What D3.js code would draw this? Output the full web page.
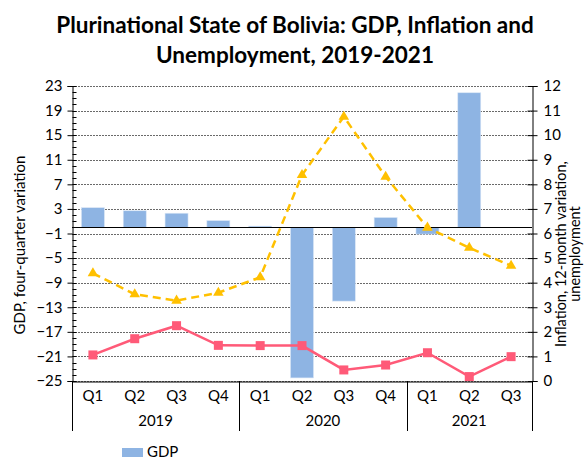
<!DOCTYPE html>
<html>
<head>
<meta charset="utf-8">
<title>Bolivia GDP, inflation and unemployment</title>
<script src="https://cdnjs.cloudflare.com/ajax/libs/d3/7.8.5/d3.min.js"></script>
<style>
  body { margin: 0; background: #fff; }
  text { font-family: Lato, "Open Sans", sans-serif; fill: #000; }
  .grid line { stroke: #6a6a6a; stroke-dasharray: 2,1; }
</style>
</head>
<body>
<svg id="chart" width="584" height="458"></svg>
<script>
// categories
var quarters = ["Q1", "Q2", "Q3", "Q4", "Q1", "Q2", "Q3", "Q4", "Q1", "Q2", "Q3"];
var years = ["2019", "2019", "2019", "2019", "2020", "2020", "2020", "2020", "2021", "2021", "2021"];
var yearGroups = ["2019", "2020", "2021"];

// series
var gdp = [3.2, 2.7, 2.3, 1.1, 0.2, -24.5, -12.0, 1.6, -1.1, 21.9, 0.0];
var unemployment = [4.38, 3.53, 3.27, 3.59, 4.22, 8.38, 10.75, 8.31, 6.24, 5.42, 4.69];
var inflation = [1.06, 1.72, 2.25, 1.45, 1.44, 1.44, 0.45, 0.65, 1.15, 0.18, 0.99];

// tick labels
var leftTicks = [23, 19, 15, 11, 7, 3, -1, -5, -9, -13, -17, -21, -25];
var rightTicks = [0, 1, 2, 3, 4, 5, 6, 7, 8, 9, 10, 11, 12];

var svg = d3.select("#chart");
var plotLeft = 72, plotRight = 532, plotTop = 86, plotBottom = 381;

var keys = quarters.map(function(q, i) { return i; });
var x = d3.scaleBand().domain(keys).range([plotLeft, plotRight]).paddingInner(0).paddingOuter(0);
var yL = d3.scaleLinear().domain([-25, 23]).range([plotBottom, plotTop]);
var yR = d3.scaleLinear().domain([0, 12]).range([plotBottom, plotTop]);

// title
var title = svg.append("text")
    .attr("x", 295).attr("y", 33)
    .attr("text-anchor", "middle")
    .style("font-size", "22.5px").style("font-weight", "bold");
title.append("tspan").attr("x", 295).attr("dy", 0).text("Plurinational State of Bolivia: GDP, Inflation and");
title.append("tspan").attr("x", 295).attr("dy", 30).text("Unemployment, 2019-2021");

// gridlines
svg.append("g").attr("class", "grid")
  .selectAll("line").data(leftTicks).enter().append("line")
    .attr("x1", plotLeft).attr("x2", plotRight)
    .attr("y1", function(d) { return Math.round(yL(d)) + 0.5; })
    .attr("y2", function(d) { return Math.round(yL(d)) + 0.5; });

// bars
svg.append("g").selectAll("rect").data(gdp).enter().append("rect")
    .attr("x", function(d, i) { return x(i) + x.bandwidth() * 0.225; })
    .attr("width", x.bandwidth() * 0.55)
    .attr("y", function(d) { return yL(Math.max(0, d)); })
    .attr("height", function(d) { return Math.abs(yL(d) - yL(0)); })
    .attr("fill", "#8eb4e3")
    .attr("stroke", "#dbe7f6").attr("stroke-width", 0.6);

// zero line
svg.append("line")
    .attr("x1", plotLeft).attr("x2", plotRight)
    .attr("y1", Math.round(yL(0)) + 0.5).attr("y2", Math.round(yL(0)) + 0.5)
    .attr("stroke", "#000").attr("stroke-width", 1);

// left axis
var leftAxis = svg.append("g").attr("transform", "translate(" + (plotLeft + 0.5) + ",0)")
    .call(d3.axisLeft(yL).tickValues(leftTicks).tickSize(5).tickPadding(5));
leftAxis.select(".domain").attr("stroke", "#000");
leftAxis.selectAll("text").style("font-size", "15px").style("font-family", "Lato, sans-serif");
// minor ticks inside
svg.append("g").attr("transform", "translate(" + (plotLeft + 0.5) + ",0)")
  .selectAll("line").data(d3.range(-25, 24, 1)).enter().append("line")
    .attr("x1", 0).attr("x2", 4)
    .attr("y1", function(d) { return Math.round(yL(d)) + 0.5; })
    .attr("y2", function(d) { return Math.round(yL(d)) + 0.5; })
    .attr("stroke", "#000");

// right axis
var rightAxis = svg.append("g").attr("transform", "translate(" + (plotRight + 0.5) + ",0)")
    .call(d3.axisRight(yR).tickValues(rightTicks).tickSize(5).tickPadding(6));
rightAxis.select(".domain").attr("stroke", "#000");
rightAxis.selectAll(".tick line").attr("x1", -5);
rightAxis.selectAll("text").style("font-size", "15px").style("font-family", "Lato, sans-serif");

// category axis
var xAxis = svg.append("g").attr("transform", "translate(0," + (plotBottom + 0.5) + ")")
    .call(d3.axisBottom(x).tickSize(0).tickPadding(9).tickFormat(function(i) { return quarters[i]; }));
xAxis.select(".domain").attr("stroke", "#000");
xAxis.selectAll("text").style("font-size", "15px").style("font-family", "Lato, sans-serif");

// year separators and labels
var bounds = [0, 4, 8, 11];
svg.append("g").selectAll("line").data(bounds).enter().append("line")
    .attr("x1", function(b) { return Math.round(b < 11 ? x(b) : plotRight) + 0.5; })
    .attr("x2", function(b) { return Math.round(b < 11 ? x(b) : plotRight) + 0.5; })
    .attr("y1", plotBottom).attr("y2", plotBottom + 50)
    .attr("stroke", "#000");
svg.append("g").selectAll("text").data(yearGroups).enter().append("text")
    .attr("x", function(yr) {
      var idx = years.map(function(v, i) { return v === yr ? i : -1; }).filter(function(i) { return i >= 0; });
      return (x(idx[0]) + x(idx[idx.length - 1]) + x.bandwidth()) / 2;
    })
    .attr("y", plotBottom + 45)
    .attr("text-anchor", "middle")
    .style("font-size", "15px")
    .text(function(d) { return d; });

// unemployment line (dashed, triangles)
var lineR = d3.line().x(function(d, i) { return x(i) + x.bandwidth() / 2; }).y(function(d) { return yR(d); });
svg.append("path").datum(unemployment)
    .attr("d", lineR).attr("fill", "none")
    .attr("stroke", "#ffc000").attr("stroke-width", 2.5).attr("stroke-dasharray", "8,5");
svg.append("g").selectAll("path").data(unemployment).enter().append("path")
    .attr("d", d3.symbol().type(d3.symbolTriangle).size(48))
    .attr("transform", function(d, i) { return "translate(" + (x(i) + x.bandwidth() / 2) + "," + yR(d) + ")"; })
    .attr("fill", "#ffc000");

// inflation line (solid, squares)
svg.append("path").datum(inflation)
    .attr("d", lineR).attr("fill", "none")
    .attr("stroke", "#ff5a78").attr("stroke-width", 2.5);
svg.append("g").selectAll("rect").data(inflation).enter().append("rect")
    .attr("x", function(d, i) { return x(i) + x.bandwidth() / 2 - 4.5; })
    .attr("y", function(d) { return yR(d) - 4.5; })
    .attr("width", 9).attr("height", 9)
    .attr("fill", "#ff5a78");

// axis titles
svg.append("text")
    .attr("transform", "translate(25,245) rotate(-90)")
    .attr("text-anchor", "middle")
    .style("font-size", "15px")
    .text("GDP, four-quarter variation");
var rt = svg.append("text")
    .attr("transform", "translate(566,254) rotate(-90)")
    .attr("text-anchor", "middle")
    .style("font-size", "14.5px");
rt.append("tspan").attr("x", 0).attr("dy", 0).text("Inflation, 12-month variation,");
rt.append("tspan").attr("x", 0).attr("dy", 14).text("unemployment");

// legend (only GDP visible)
svg.append("rect").attr("x", 122).attr("y", 448).attr("width", 21).attr("height", 9).attr("fill", "#8eb4e3");
svg.append("text").attr("x", 147).attr("y", 457).style("font-size", "15px").text("GDP");
</script>
</body>
</html>
